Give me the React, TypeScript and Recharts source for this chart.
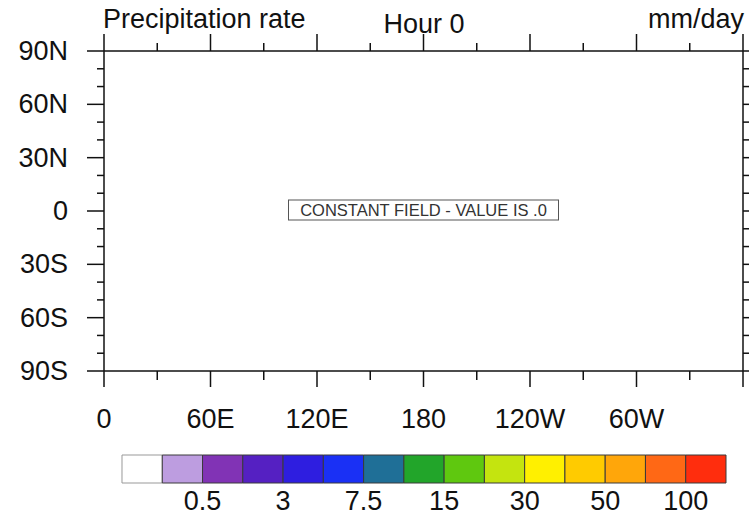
import React from "react";
import { ScatterChart, Scatter, XAxis, YAxis, BarChart, Bar } from "recharts";

// ─── Data ─────────────────────────────────────────────────────────────────────
const LON_MAJOR = [0, 60, 120, 180, 240, 300, 360];
const LON_LABELS = ["0", "60E", "120E", "180", "120W", "60W", ""];
const LON_MINOR = [30, 90, 150, 210, 270, 330];

const LAT_MAJOR = [-90, -60, -30, 0, 30, 60, 90];
const LAT_LABELS = ["90S", "60S", "30S", "0", "30N", "60N", "90N"];
const LAT_MINOR = [-80, -70, -50, -40, -20, -10, 10, 20, 40, 50, 70, 80];

const TITLE_LEFT = "Precipitation rate";
const TITLE_CENTER = "Hour 0";
const TITLE_RIGHT = "mm/day";
const FIELD_MESSAGE = "CONSTANT FIELD - VALUE IS .0";
// the field is constant; its message sits at the map centre
const FIELD_POINTS = [{ lon: 180, lat: 0, value: 0 }];

// contour levels (only every other one gets a label on the bar)
const LEVELS = [0.1, 0.5, 1, 3, 5, 7.5, 10, 15, 20, 30, 40, 50, 75, 100];
const LEVEL_COLORS = [
  "#ffffff", "#bd9de0", "#8133b5", "#5520c2", "#2e1ee0",
  "#1a30f5", "#1f6f97", "#22a52a", "#5fc80f", "#c4e40f",
  "#fff000", "#ffcb00", "#ffa60a", "#ff6815", "#ff2d0d",
];

const LON_TICKS = [...LON_MAJOR, ...LON_MINOR].sort((a, b) => a - b);
const LAT_TICKS = [...LAT_MAJOR, ...LAT_MINOR].sort((a, b) => a - b);
const LABEL_STRIDE = 2;
const CB_TICKS = LEVELS.map((_, i) => i + 1).filter((b) => b % LABEL_STRIDE === 0);
const CB_ROW: Record<string, number | string> = { name: "bar" };
LEVEL_COLORS.forEach((_, i) => (CB_ROW[`b${i}`] = 1));

// ─── Styles ───────────────────────────────────────────────────────────────────
const FONT = "'Liberation Sans', Arial, Helvetica, sans-serif";
const INK = "#111";
const labelStyle = { fontFamily: FONT, fontSize: 27, fill: INK } as const;

// ─── Tick renderers (major + minor ticks on one axis) ─────────────────────────
function BottomTick({ x, y, payload }: any) {
  const i = LON_MAJOR.indexOf(payload.value);
  const major = i >= 0;
  return (
    <g>
      <line x1={x} y1={y} x2={x} y2={y + (major ? 16 : 9)} stroke={INK} strokeWidth={1.5} />
      {major && LON_LABELS[i] && (
        <text x={x} y={y + 57} textAnchor="middle" style={labelStyle}>
          {LON_LABELS[i]}
        </text>
      )}
    </g>
  );
}

function TopTick({ x, y, payload }: any) {
  const major = LON_MAJOR.includes(payload.value);
  return <line x1={x} y1={y} x2={x} y2={y - (major ? 17 : 8)} stroke={INK} strokeWidth={1.5} />;
}

function LeftTick({ x, y, payload }: any) {
  const i = LAT_MAJOR.indexOf(payload.value);
  const major = i >= 0;
  return (
    <g>
      <line x1={x - (major ? 17 : 7)} y1={y} x2={x} y2={y} stroke={INK} strokeWidth={1.5} />
      {major && (
        <text x={x - 36} y={y + 9} textAnchor="end" style={labelStyle}>
          {LAT_LABELS[i]}
        </text>
      )}
    </g>
  );
}

function RightTick({ x, y, payload }: any) {
  const major = LAT_MAJOR.includes(payload.value);
  return <line x1={x} y1={y} x2={x + (major ? 17 : 7)} y2={y} stroke={INK} strokeWidth={1.5} />;
}

function ColorbarTick({ x, y, payload }: any) {
  return (
    <text x={x} y={y + 27} textAnchor="middle" style={labelStyle}>
      {String(LEVELS[payload.value - 1])}
    </text>
  );
}

function ConstantFieldBox({ cx, cy }: any) {
  if (cx == null || cy == null) return null;
  return (
    <g>
      <rect x={cx - 135} y={cy - 11} width={270} height={20} fill="#fff" stroke="#555" strokeWidth={1} />
      <text x={cx} y={cy + 5} textAnchor="middle" style={{ fontFamily: FONT, fontSize: 16.5, fill: "#333" }}>
        {FIELD_MESSAGE}
      </text>
    </g>
  );
}

const axisLine = { stroke: INK, strokeWidth: 1.5 };

export default function App() {
  return (
    <div style={{ position: "absolute", left: 0, top: 0, width: 749, height: 519, background: "#fff" }}>
      <ScatterChart width={749} height={440} margin={{ top: 0, right: 0, bottom: 0, left: 0 }}>
        <XAxis
          xAxisId="bottom"
          type="number"
          dataKey="lon"
          domain={[0, 360]}
          ticks={LON_TICKS}
          interval={0}
          orientation="bottom"
          height={69}
          tickSize={0}
          tickMargin={0}
          tickLine={false}
          axisLine={axisLine}
          tick={<BottomTick />}
        />
        <XAxis
          xAxisId="top"
          type="number"
          dataKey="lon"
          domain={[0, 360]}
          ticks={LON_TICKS}
          interval={0}
          orientation="top"
          height={51}
          tickSize={0}
          tickMargin={0}
          tickLine={false}
          axisLine={axisLine}
          tick={<TopTick />}
        />
        <YAxis
          yAxisId="left"
          type="number"
          dataKey="lat"
          domain={[-90, 90]}
          ticks={LAT_TICKS}
          interval={0}
          width={104}
          tickSize={0}
          tickMargin={0}
          tickLine={false}
          axisLine={axisLine}
          tick={<LeftTick />}
        />
        <YAxis
          yAxisId="right"
          type="number"
          dataKey="lat"
          domain={[-90, 90]}
          ticks={LAT_TICKS}
          interval={0}
          orientation="right"
          width={6}
          tickSize={0}
          tickMargin={0}
          tickLine={false}
          axisLine={axisLine}
          tick={<RightTick />}
        />
        <Scatter
          xAxisId="bottom"
          yAxisId="left"
          data={FIELD_POINTS}
          shape={<ConstantFieldBox />}
          isAnimationActive={false}
        />
        <Scatter xAxisId="top" yAxisId="right" data={FIELD_POINTS} shape={() => null} isAnimationActive={false} />
      </ScatterChart>

      <div style={{ position: "absolute", left: 0, top: 440 }}>
        <BarChart
          width={749}
          height={79}
          layout="vertical"
          data={[CB_ROW]}
          barCategoryGap={0}
          margin={{ top: 15, right: 23, bottom: 0, left: 122 }}
        >
          <XAxis
            type="number"
            domain={[0, LEVEL_COLORS.length]}
            ticks={CB_TICKS}
            interval={0}
            height={36}
            tickSize={0}
            tickMargin={0}
            tickLine={false}
            axisLine={false}
            tick={<ColorbarTick />}
          />
          <YAxis type="category" dataKey="name" hide />
          {LEVEL_COLORS.map((c, i) => (
            <Bar
              key={i}
              dataKey={`b${i}`}
              stackId="cb"
              fill={c}
              stroke={i === 0 ? "#999" : "#3a3a3a"}
              strokeWidth={1}
              isAnimationActive={false}
            />
          ))}
        </BarChart>
      </div>

      <svg width={749} height={60} style={{ position: "absolute", left: 0, top: 0, pointerEvents: "none" }}>
        <text x={103} y={28} textAnchor="start" style={labelStyle}>{TITLE_LEFT}</text>
        <text x={424} y={33} textAnchor="middle" style={labelStyle}>{TITLE_CENTER}</text>
        <text x={744} y={28} textAnchor="end" style={labelStyle}>{TITLE_RIGHT}</text>
      </svg>
    </div>
  );
}
